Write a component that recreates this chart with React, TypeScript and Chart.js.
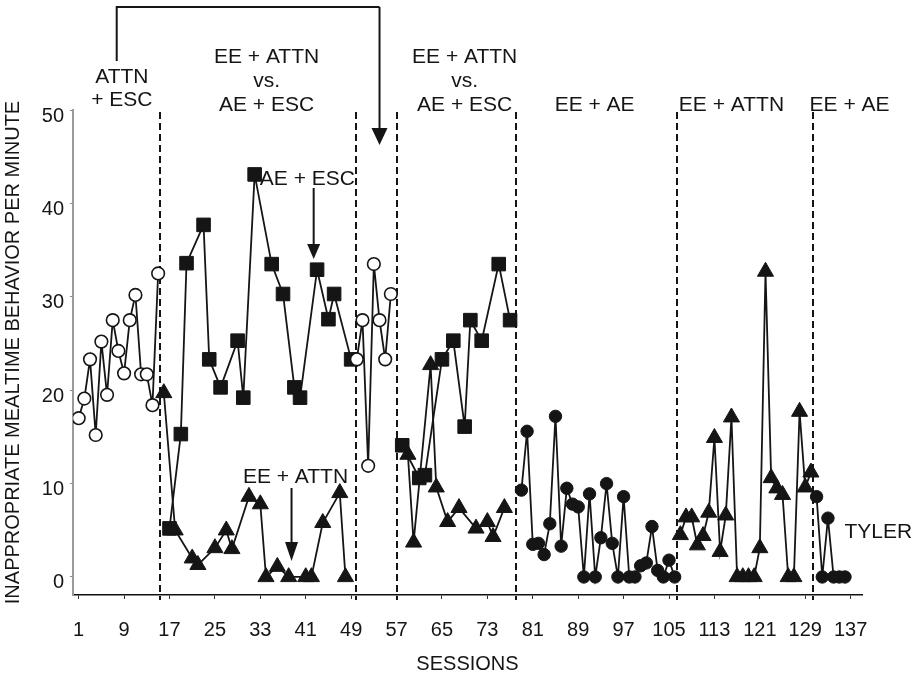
import React, { useEffect, useRef } from 'react';
import { Chart, registerables } from 'chart.js';

Chart.register(...registerables);

// ---------- axis ticks ----------
const xTickLabels = [1, 9, 17, 25, 33, 41, 49, 57, 65, 73, 81, 89, 97, 105, 113, 121, 129, 137];
const yTickLabels = [0, 10, 20, 30, 40, 50];

// ---------- phase change lines (session units) ----------
const phaseChanges = [15.4, 49.8, 57, 78.1, 106.4, 130.3];

// ---------- ATTN + ESC (open circles) ----------
const attnEscSessions1 = [1, 2, 3, 4, 5, 6, 7, 8, 9, 10, 11, 12, 13, 14, 15];
const attnEscValues1 = [17.0, 19.1, 23.3, 15.2, 25.2, 19.5, 27.5, 24.2, 21.8, 27.5, 30.2, 21.7, 21.7, 18.4, 32.5];
const attnEscSessions2 = [50, 51, 52, 53, 54, 55, 56];
const attnEscValues2 = [23.3, 27.5, 11.9, 33.5, 27.5, 23.3, 30.3];

// ---------- AE + ESC (filled squares) ----------
const aeEscSessions1 = [17, 19, 20, 23, 24, 26, 29, 30, 32, 35, 37, 39, 40, 43, 45, 46, 49];
const aeEscValues1 = [5.2, 15.3, 33.6, 37.7, 23.3, 20.3, 25.3, 19.2, 43.1, 33.5, 30.3, 20.3, 19.2, 32.9, 27.6, 30.3, 23.3];
const aeEscSessions2 = [58, 61, 62, 65, 67, 69, 70, 72, 75, 77];
const aeEscValues2 = [14.1, 10.6, 10.9, 23.3, 25.3, 16.1, 27.5, 25.3, 33.5, 27.5];

// ---------- EE + ATTN (filled triangles) ----------
const eeAttnSessions1 = [16, 18, 21, 22, 25, 27, 28, 31, 33, 34, 36, 38, 41, 42, 44, 47, 48];
const eeAttnValues1 = [19.7, 5.0, 2.0, 1.3, 3.1, 5.0, 3.0, 8.6, 7.8, 0, 1.1, 0, 0, 0, 5.8, 9.0, 0];
const eeAttnSessions2 = [59, 60, 63, 64, 66, 68, 71, 73, 74, 76];
const eeAttnValues2 = [13.1, 3.7, 22.7, 9.6, 5.9, 7.4, 5.2, 5.9, 4.3, 7.4];
const eeAttnSessions3 = [107, 108, 109, 110, 111, 112, 113, 114, 115, 116, 117, 118, 119, 120, 121, 122, 123, 124, 125, 126, 127, 128, 129, 130];
const eeAttnValues3 = [4.5, 6.4, 6.4, 3.4, 4.4, 6.9, 14.9, 2.7, 6.6, 17.1, 0, 0, 0, 0, 3.1, 32.7, 10.6, 9.5, 8.8, 0, 0, 17.7, 9.6, 11.2];

// ---------- EE + AE (filled circles) ----------
const eeAeSessions1 = [79, 80, 81, 82, 83, 84, 85, 86, 87, 88, 89, 90, 91, 92, 93, 94, 95, 96, 97, 98, 99, 100, 101, 102, 103, 104, 105, 106];
const eeAeValues1 = [9.3, 15.6, 3.5, 3.6, 2.4, 5.7, 17.2, 3.3, 9.5, 7.8, 7.5, 0, 8.9, 0, 4.2, 10.0, 3.6, 0, 8.6, 0, 0, 1.2, 1.5, 5.4, 0.7, 0, 1.8, 0];
const eeAeSessions2 = [131, 132, 133, 134, 135, 136];
const eeAeValues2 = [8.6, 0, 6.3, 0, 0, 0];

const FONT = "'Liberation Sans', Arial, Helvetica, sans-serif";
const INK = '#151515';

const pts = (s: number[], v: number[]) => s.map((x, i) => ({ x, y: v[i] }));

const base = {
  borderColor: INK,
  borderWidth: 1.8,
  tension: 0,
  fill: false,
  pointBorderColor: INK,
};
const openCircle = { ...base, pointStyle: 'circle', pointRadius: 6.3, pointBackgroundColor: '#ffffff', pointBorderWidth: 1.6 };
const square = { ...base, pointStyle: 'rect', pointRadius: 9.6, pointBackgroundColor: INK, pointBorderWidth: 1 };
const triangle = { ...base, pointStyle: 'triangle', pointRadius: 9.3, pointBackgroundColor: INK, pointBorderWidth: 1 };
const dot = { ...base, pointStyle: 'circle', pointRadius: 6.2, pointBackgroundColor: INK, pointBorderWidth: 1 };

const datasets: any[] = [
  { label: 'ATTN + ESC', data: pts(attnEscSessions1, attnEscValues1), ...openCircle },
  { label: 'ATTN + ESC (return)', data: pts(attnEscSessions2, attnEscValues2), ...openCircle },
  { label: 'AE + ESC', data: pts(aeEscSessions1, aeEscValues1), ...square },
  { label: 'AE + ESC (2)', data: pts(aeEscSessions2, aeEscValues2), ...square },
  { label: 'EE + ATTN', data: pts(eeAttnSessions1, eeAttnValues1), ...triangle },
  { label: 'EE + ATTN (2)', data: pts(eeAttnSessions2, eeAttnValues2), ...triangle },
  { label: 'EE + ATTN (3)', data: pts(eeAttnSessions3, eeAttnValues3), ...triangle },
  { label: 'EE + AE', data: pts(eeAeSessions1, eeAeValues1), ...dot },
  { label: 'EE + AE (2)', data: pts(eeAeSessions2, eeAeValues2), ...dot },
];

function downArrow(ctx: CanvasRenderingContext2D, x: number, y1: number, y2: number, hw: number, hh: number) {
  ctx.beginPath();
  ctx.moveTo(x, y1);
  ctx.lineTo(x, y2 - hh + 1);
  ctx.stroke();
  ctx.beginPath();
  ctx.moveTo(x - hw / 2, y2 - hh);
  ctx.lineTo(x + hw / 2, y2 - hh);
  ctx.lineTo(x, y2);
  ctx.closePath();
  ctx.fill();
}

const annotationPlugin = {
  id: 'phaseAnnotations',
  beforeDatasetsDraw(chart: any) {
    const { ctx, chartArea } = chart;
    const xs = chart.scales.x;
    ctx.save();
    ctx.strokeStyle = INK;
    ctx.lineWidth = 2;
    ctx.setLineDash([7, 4]);
    phaseChanges.forEach((s) => {
      const px = Math.round(xs.getPixelForValue(s));
      ctx.beginPath();
      ctx.moveTo(px, chartArea.top + 2);
      ctx.lineTo(px, chartArea.bottom + 5);
      ctx.stroke();
    });
    ctx.restore();
  },
  afterDatasetsDraw(chart: any) {
    const { ctx } = chart;
    const xs = chart.scales.x;
    const X = (s: number) => xs.getPixelForValue(s);
    ctx.save();
    ctx.fillStyle = INK;
    ctx.strokeStyle = INK;
    ctx.font = `21px ${FONT}`;
    ctx.textAlign = 'center';
    ctx.textBaseline = 'alphabetic';

    const labels: [number, string, number][] = [
      [8.6, 'ATTN', 83],
      [8.6, '+ ESC', 106],
      [34.1, 'EE + ATTN', 63],
      [34.1, 'vs.', 87],
      [34.1, 'AE + ESC', 111],
      [69.0, 'EE + ATTN', 63],
      [69.0, 'vs.', 87],
      [69.0, 'AE + ESC', 111],
      [91.9, 'EE + AE', 111],
      [116.0, 'EE + ATTN', 111],
      [136.8, 'EE + AE', 111],
      [41.3, 'AE + ESC', 185],
      [39.2, 'EE + ATTN', 483],
    ];
    labels.forEach(([s, t, y]) => ctx.fillText(t, X(s), y));

    ctx.textAlign = 'left';
    ctx.fillText('TYLER', X(135.9), 538);

    // in-chart arrows
    ctx.lineWidth = 2;
    downArrow(ctx, X(42.4), 188, 259, 13, 15);
    downArrow(ctx, X(38.5), 488, 561, 13, 19);

    // bracket from ATTN + ESC to the return phase
    const xl = X(7.7);
    const xr = X(54.0);
    ctx.beginPath();
    ctx.moveTo(xl, 61);
    ctx.lineTo(xl, 7);
    ctx.lineTo(xr, 7);
    ctx.stroke();
    downArrow(ctx, xr, 7, 145, 16, 17);
    ctx.restore();
  },
};

export default function App() {
  const ref = useRef<HTMLCanvasElement>(null);
  useEffect(() => {
    const canvas = ref.current;
    if (!canvas) return;
    const tickFont = { family: FONT, size: 20 };
    const chart = new Chart(canvas, {
      type: 'line',
      data: { datasets },
      options: {
        animation: false,
        responsive: false,
        devicePixelRatio: 1,
        layout: { padding: { top: 110, right: 56, left: 0, bottom: 0 } },
        plugins: { legend: { display: false }, tooltip: { enabled: false } },
        scales: {
          x: {
            type: 'linear',
            min: 0,
            max: 139,
            afterFit: (s: any) => { s.height = 86; },
            afterBuildTicks: (s: any) => { s.ticks = xTickLabels.map((v) => ({ value: v })); },
            ticks: { autoSkip: false, maxRotation: 0, minRotation: 0, padding: 19, font: tickFont, color: INK },
            grid: { drawOnChartArea: false, drawTicks: true, tickLength: 4, color: '#333', lineWidth: 1 },
            border: { display: true, color: '#111', width: 1.5 },
            title: { display: true, text: 'SESSIONS', font: tickFont, color: INK, padding: { top: 0, bottom: 5 } },
          },
          y: {
            type: 'linear',
            min: -1.93,
            max: 50,
            afterFit: (s: any) => { s.width = 73; },
            afterBuildTicks: (s: any) => { s.ticks = yTickLabels.map((v) => ({ value: v })); },
            ticks: { padding: 6, labelOffset: 6, font: tickFont, color: INK },
            grid: { drawOnChartArea: false, drawTicks: true, tickLength: 3, color: '#888', lineWidth: 1 },
            border: { display: true, color: '#9a9a9a', width: 2 },
            title: {
              display: true,
              text: 'INAPPROPRIATE MEALTIME BEHAVIOR PER MINUTE',
              font: tickFont,
              color: INK,
              padding: { top: 1, bottom: 0 },
            },
          },
        },
      } as any,
      plugins: [annotationPlugin],
    });
    return () => chart.destroy();
  }, []);
  return (
    <div style={{ position: 'fixed', left: 0, top: 0, width: 918, height: 681, background: '#ffffff' }}>
      <canvas ref={ref} width={918} height={681} style={{ display: 'block' }} />
    </div>
  );
}
